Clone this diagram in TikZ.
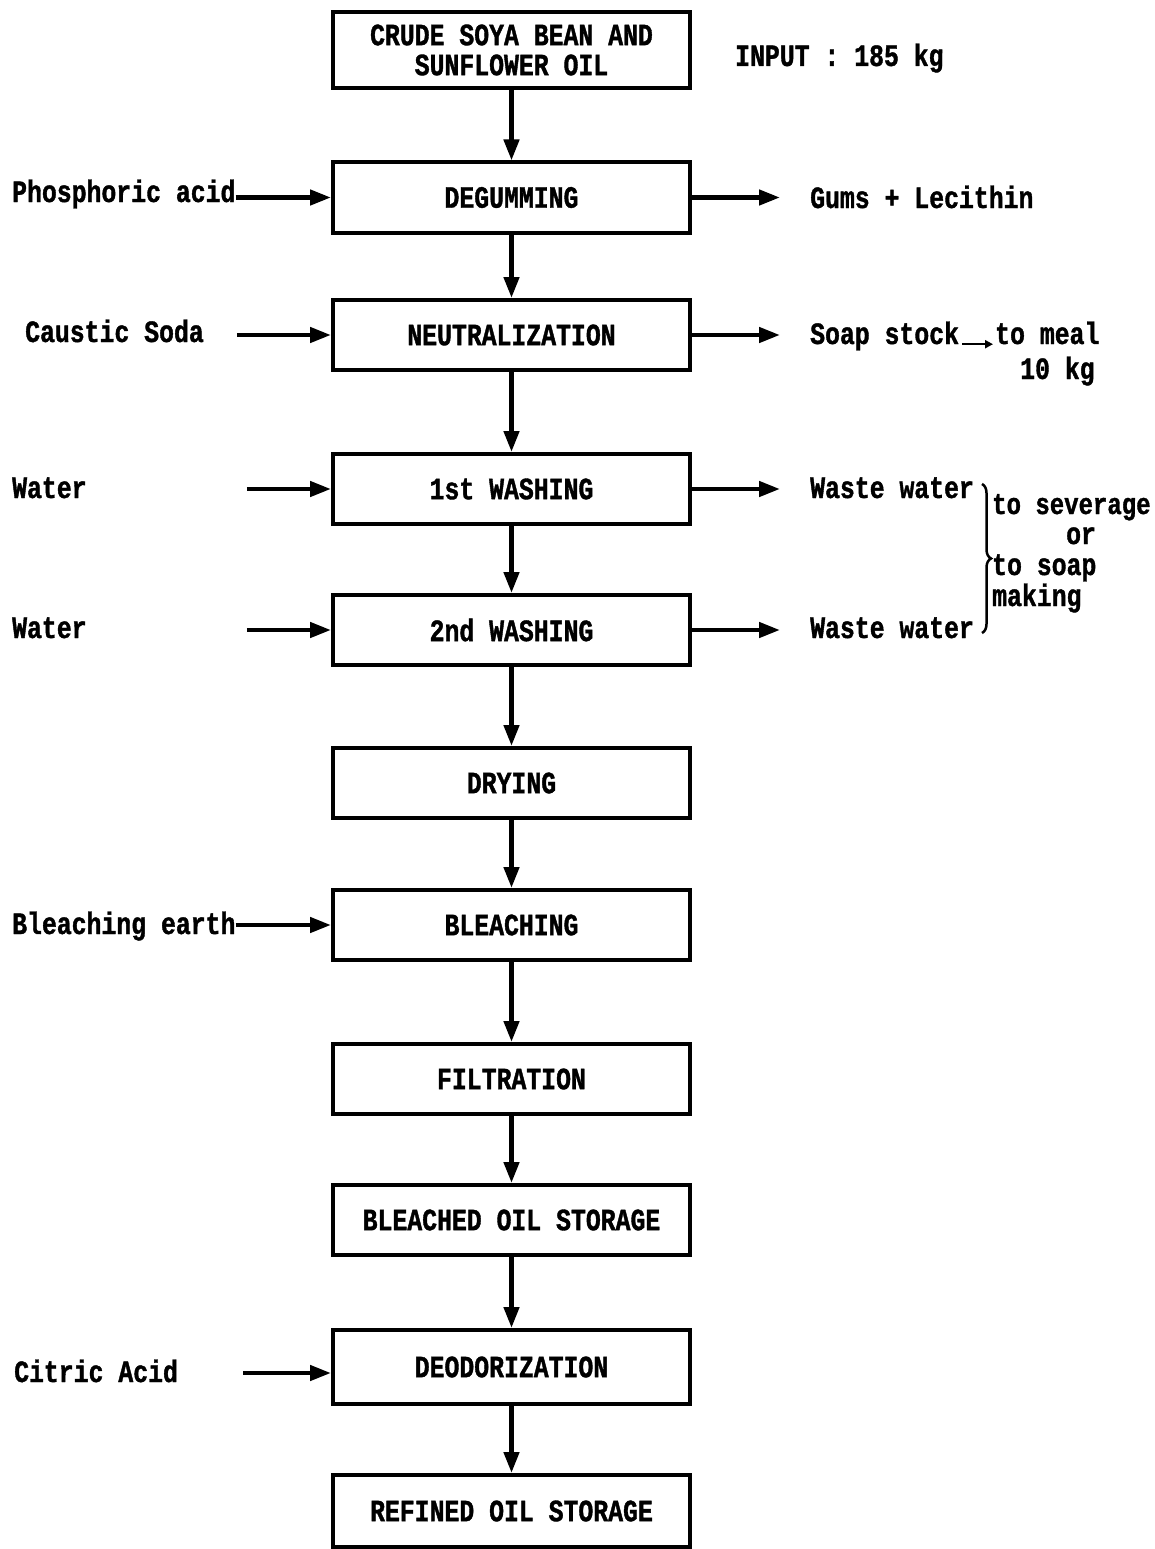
\documentclass[tikz,border=0pt]{standalone}
\usepackage{fontspec}
\newfontfamily\monofnt[FakeStretch=0.8,FakeBold=1.2]{Liberation Mono}
\newcommand\lblfont{\monofnt\bfseries\fontsize{31}{30}\selectfont}
\usetikzlibrary{arrows.meta,decorations.pathreplacing}
\begin{document}
\begin{tikzpicture}[x=1pt,y=-1pt,
  box/.style={draw, line width=4pt, minimum width=357pt, minimum height=70pt,
    inner sep=0pt, font=\lblfont, align=center},
  lbl/.style={font=\lblfont, inner sep=0pt, text height=18pt, text depth=0pt, anchor=west},
  arr/.style={line width=4.5pt, -{Triangle[width=15pt,length=21pt]}},
  smallarr/.style={line width=2.5pt, -{Triangle[width=8pt,length=8pt]}},
  bracestyle/.style={line width=2.5pt, decorate, decoration={brace, amplitude=9pt}}]
\useasboundingbox[fill=white] (0,0) rectangle (1154,1549);
% process boxes
\node[box, minimum height=76pt] (b1) at (511.5,50) {CRUDE SOYA BEAN AND\\SUNFLOWER OIL};
\node[box] (b2) at (511.5,197.5) {DEGUMMING};
\node[box] (b3) at (511.5,335) {NEUTRALIZATION};
\node[box] (b4) at (511.5,489) {1st WASHING};
\node[box] (b5) at (511.5,630) {2nd WASHING};
\node[box] (b6) at (511.5,783) {DRYING};
\node[box] (b7) at (511.5,925) {BLEACHING};
\node[box] (b8) at (511.5,1079) {FILTRATION};
\node[box] (b9) at (511.5,1220) {BLEACHED OIL STORAGE};
\node[box, minimum height=74pt] (b10) at (511.5,1367) {DEODORIZATION};
\node[box, minimum height=72pt] (b11) at (511.5,1511) {REFINED OIL STORAGE};
% main flow
\draw[arr] (b1) -- (b2);
\draw[arr] (b2) -- (b3);
\draw[arr] (b3) -- (b4);
\draw[arr] (b4) -- (b5);
\draw[arr] (b5) -- (b6);
\draw[arr] (b6) -- (b7);
\draw[arr] (b7) -- (b8);
\draw[arr] (b8) -- (b9);
\draw[arr] (b9) -- (b10);
\draw[arr] (b10) -- (b11);
% input note
\node[lbl] (inp) at (735,57) {INPUT : 185 kg};
% left inputs
\node[lbl] (i2) at (12,193) {Phosphoric acid};
\node[lbl] (i3) at (25,333) {Caustic Soda};
\node[lbl] (i4) at (12,489) {Water};
\node[lbl] (i5) at (12,629) {Water};
\node[lbl] (i7) at (12,925) {Bleaching earth};
\node[lbl] (i10) at (14,1373) {Citric Acid};
\draw[arr] (b2.west -| i2.east) -- (b2.west);
\draw[arr, shorten <=33pt] (b3.west -| i3.east) -- (b3.west);
\draw[arr, shorten <=160pt] (b4.west -| i4.east) -- (b4.west);
\draw[arr, shorten <=160pt] (b5.west -| i5.east) -- (b5.west);
\draw[arr] (b7.west -| i7.east) -- (b7.west);
\draw[arr, shorten <=65pt] (i10.east) -- (i10.east -| b10.west);
% right outputs
\node[lbl] (o2) at (810,199) {Gums + Lecithin};
\node[lbl] (o3) at (810,335) {Soap stock};
\node[lbl] (o3b) at (995,335) {to meal};
\node[lbl] (o3c) at (1020,370) {10 kg};
\node[lbl] (o4) at (810,489) {Waste water};
\node[lbl] (o5) at (810,629) {Waste water};
\draw[arr, shorten >=30pt] (b2.east) -- (b2.east -| o2.west);
\draw[arr, shorten >=30pt] (b3.east) -- (b3.east -| o3.west);
\draw[arr, shorten >=30pt] (b4.east) -- (b4.east -| o4.west);
\draw[arr, shorten >=30pt] (b5.east) -- (b5.east -| o5.west);
\draw[smallarr, shorten <=3pt, shorten >=2pt] (o3.south east) -- (o3b.south west);
% brace and destinations
\coordinate (bt) at (982,484);
\coordinate (bb) at (982,633);
\draw[bracestyle] (bt) -- (bb);
\node[lbl, font=\monofnt\bfseries\fontsize{30}{30}\selectfont] (d1) at (992,505) {to severage};
\node[lbl] (d2) at (1066,535) {or};
\node[lbl] (d3) at (992,566) {to soap};
\node[lbl] (d4) at (992,597) {making};
\end{tikzpicture}
\end{document}
